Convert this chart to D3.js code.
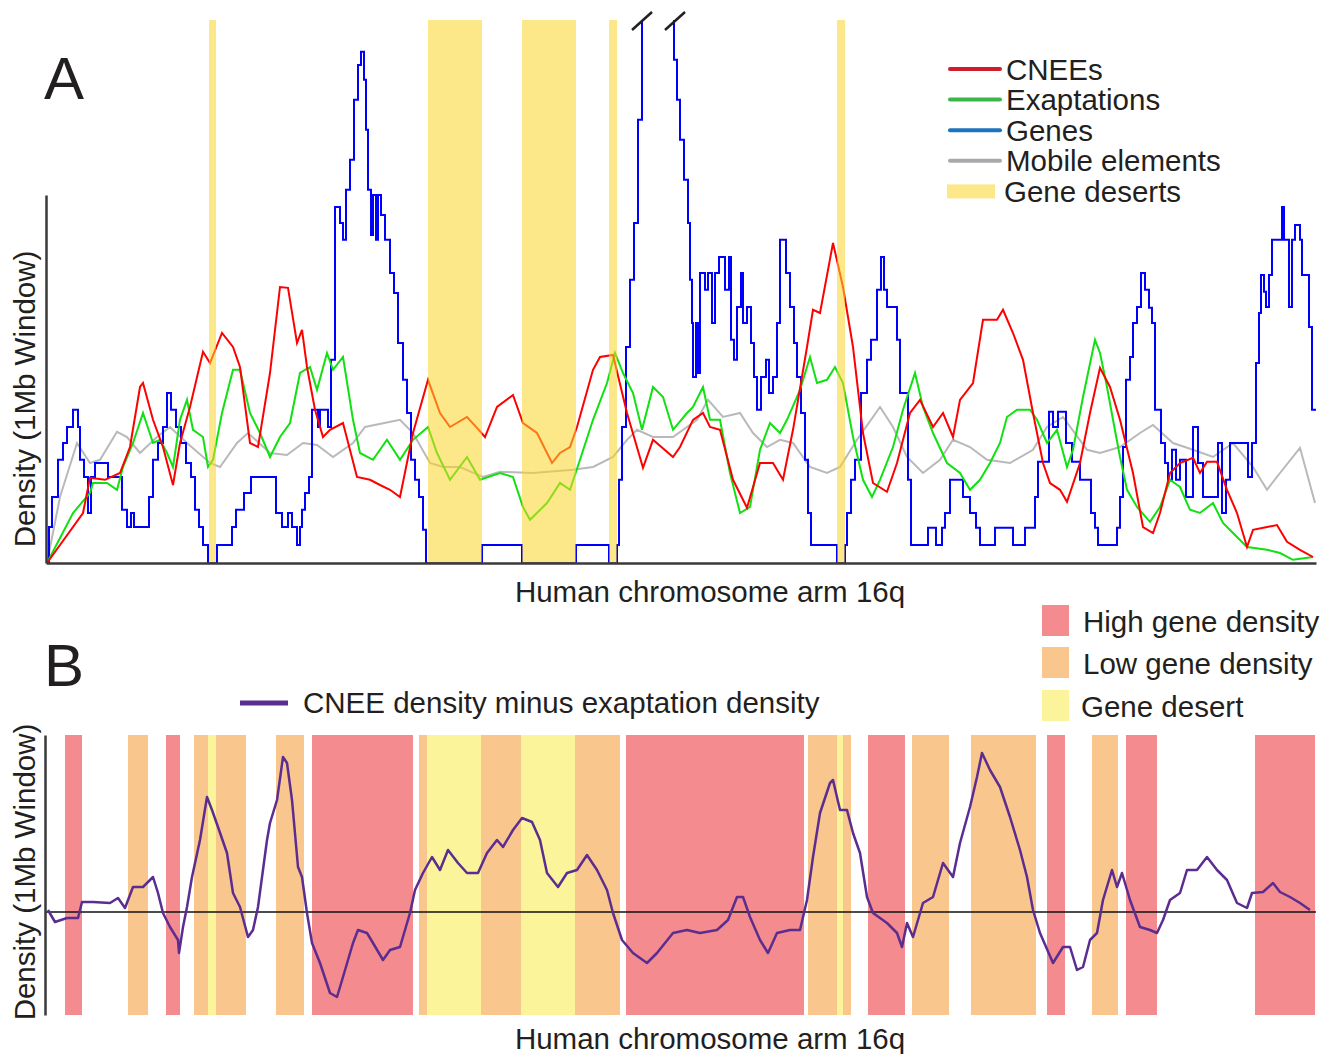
<!DOCTYPE html>
<html lang="en">
<head>
<meta charset="utf-8">
<title>CNEE and exaptation density along human 16q</title>
<script src="https://cdn.jsdelivr.net/npm/d3@7"></script>
<style>
  body { margin: 0; background: #fff; }
  svg text { font-family: "Liberation Sans", Arial, sans-serif; fill: #231f20; }
</style>
</head>
<body>
<div id="chart"></div>
<script>
// positions are along 16q in 100 kb steps, densities per 1 Mb window (arbitrary units)
var cneeDensity = [[0,0],[3.6,12.5],[4.3,21.3],[5.8,20.8],[7.3,22.5],[8.3,29],[9.3,44],[9.6,45],[10.6,35.8],[11.6,29],[12.6,19.5],[13.3,30],[14.3,39],[15.6,52.8],[16.3,50],[17.5,57.5],[18.6,54],[19.3,49],[20.3,30],[21.1,29],[22.3,47.5],[23.3,69],[24.1,68.8],[25,55],[25.5,58.3],[26,49],[26.8,38.3],[27.6,31.5],[28.3,33.3],[29.6,35],[31,21.5],[32.3,20.8],[33.3,19.5],[34.3,18.3],[35.3,16.5],[36.6,32.5],[38.1,45.8],[39.3,37.5],[40.3,34],[42,36.5],[43,33.8],[43.8,31.5],[45,39],[46.6,42],[47.6,35],[49,32.5],[50.5,25],[51.3,27.5],[52.3,29],[53,34],[54.6,48.3],[55.3,51.5],[56.6,52],[58,37.5],[59.6,23.8],[60.6,30.8],[62.6,26.5],[63.3,29],[64.6,35.8],[65.6,37.5],[66.3,34],[67.3,33.3],[68.6,20.8],[70,13.8],[71.3,25],[72.6,25],[73.6,20.8],[74.6,33.3],[76,54],[76.6,63.3],[77.3,62.5],[78.6,80],[79.6,69],[80.6,54],[81.6,32.5],[82.6,20],[84,17.8],[85,25],[86.3,37.5],[87.3,40.8],[88.6,34],[89.6,37.5],[90.6,31.5],[91.3,40.8],[92.6,45],[93.6,60.8],[95,60.8],[95.6,63.3],[96.6,57.5],[97.6,50.8],[98.6,37.5],[99.6,25],[100.3,20],[101.3,18.3],[102,15.3],[103.3,25],[104.3,37.5],[105.3,48.8],[106.3,44],[107.3,35.8],[108.6,22.5],[109.6,9],[110.6,7.5],[111.3,12.5],[112.3,22.5],[113.3,25],[114.6,26.3],[115.3,22.5],[116,25.3],[117,25.3],[118,18.3],[119,12.5],[120,4],[120.6,8.3],[122,9],[123,9.5],[124,5.3],[125.3,3.3],[126.6,1.5]];

var exaptationDensity = [[0,0],[2.6,12.5],[4.3,17.5],[4.6,20],[6,20],[7,18.3],[7.6,24],[8.6,30],[9.6,37.5],[10.6,30],[11.3,30.8],[12,27.5],[12.6,24],[13.3,35.8],[14,40.8],[14.6,33.3],[15.6,31.5],[16.1,24],[16.6,25.8],[17.5,37.5],[18.6,48.3],[19.3,48.3],[20.3,37.5],[21.3,32.5],[22.3,26.5],[23.3,31.5],[24.3,35],[25.3,47.5],[26.3,49],[27,43.3],[28,52.5],[28.6,48.3],[29.6,51.5],[30.6,35.8],[31.3,27.5],[32.6,25.8],[34,30.8],[35.3,25.8],[36.6,30.8],[38.1,34],[39,27.5],[40.3,20.8],[42,26.5],[43.3,20.8],[45.3,22.5],[46.6,21.5],[47.6,14],[48.3,10.8],[50,15],[51.3,20],[52.3,18.3],[53.3,25.8],[54.6,35.8],[56,45],[56.8,52.5],[57.6,47.5],[58.6,42.5],[59.5,33.3],[60.6,44],[61.6,41.5],[62.6,33.3],[64,37.5],[64.6,39],[65.6,44],[66.3,35.8],[67.3,35.8],[68.3,22.5],[69.3,12.5],[70.3,14],[71.3,28.3],[72.3,35],[73.3,32.5],[74,35.8],[75.3,43.3],[76.3,51.5],[77,45],[78,45.8],[78.8,49],[79.6,45],[80.6,31.5],[81.6,20.8],[82.5,16.5],[83.3,20.8],[84.6,29],[85.6,38.3],[86.8,47.5],[87.6,39],[88.6,32.5],[90,25],[91.3,22.5],[92.3,18.3],[93.3,20.8],[94.3,25],[95.3,30],[96,36.5],[97,38.3],[98.3,38.3],[99,35.8],[100,30],[101,33.3],[102,24],[102.6,28.3],[103.6,41.5],[104.8,55.8],[105.3,52.5],[106,44],[106.6,35.8],[107.3,26.5],[108,18.3],[109,14],[110.3,10.3],[111.3,14],[112.3,20.8],[113.3,19],[114.3,13.3],[115.3,12.5],[116.6,15],[117.6,10],[118.6,7.5],[120,4],[122,3.3],[123.3,2.5],[124.6,0.8],[126.6,1.5]];

// gene density is a step profile; each pair starts a new level
var geneDensity = [[0,0],[0.2,9],[0.5,16.5],[1.1,25.8],[1.6,30],[2,34],[2.6,38.3],[3.1,34],[3.3,25.8],[3.7,21.5],[4.1,12.5],[4.4,21.5],[4.8,25],[6.1,21.5],[7.5,13.3],[8,9],[8.4,12.5],[8.7,9],[10.2,16.5],[10.6,25.8],[11.1,30],[11.6,34],[12,42.5],[12.4,38.3],[12.9,34],[13.4,30],[13.9,25],[14.4,21.5],[14.8,13.3],[15.2,9],[15.6,4.5],[16.1,0],[17,4.5],[18.5,9],[18.9,13.3],[19.7,17.5],[20.4,21.5],[22.9,12.5],[23.5,9],[24.1,12.5],[24.5,9],[25,4.5],[25.3,9],[25.5,13.3],[25.8,17.5],[26.2,21.5],[26.5,38.3],[27.1,34],[27.3,38.3],[28.1,34],[28.4,50.8],[28.8,89],[29.3,85],[29.6,80.8],[29.9,93.3],[30.3,100.8],[30.7,115.8],[31.1,124.5],[31.4,127.8],[31.7,120.8],[31.9,108.3],[32.1,93.3],[32.4,82],[32.6,92],[32.9,80.8],[33.1,92],[33.4,87],[33.8,80.8],[34.3,72.5],[34.7,67.5],[35.1,55],[35.6,45.8],[36,37.5],[36.4,25.8],[36.8,20.8],[37.2,16.5],[37.6,8.3],[37.9,0],[43.5,4.5],[47.5,0],[52.9,4.5],[56.2,0],[57,4.5],[57.2,20.8],[57.5,34],[57.9,54],[58.3,70.8],[58.7,85],[59.1,110.8],[59.5,200],[62.7,125.8],[63,115.8],[63.3,105.8],[63.7,95.8],[64.1,85],[64.3,70.8],[64.5,60],[64.6,46.5],[64.9,60],[65.1,47.5],[65.3,72.5],[65.8,68.3],[66.1,72.5],[66.5,60],[66.8,72.5],[67.2,76.5],[67.8,68.3],[68.2,76.5],[68.4,55.8],[68.7,50.8],[69,64],[69.4,72.5],[69.6,60],[70,64],[70.4,55],[70.7,46.5],[71,38.3],[71.4,46.5],[71.9,50.8],[72.2,42.5],[72.6,46.5],[73,60],[73.3,80.8],[73.9,72.5],[74.3,64],[74.7,55],[75,46.5],[75.4,37.5],[75.8,25.8],[76.1,12.5],[76.4,4.5],[79,0],[79.8,4.5],[80,12.5],[80.4,20.8],[80.8,25.8],[81.4,42.5],[82,50.8],[82.4,55.8],[83,68.3],[83.4,76.5],[83.7,68.3],[84,64],[85,55.8],[85.3,42.5],[86.1,20.8],[86.4,4.5],[88.1,8.8],[88.9,4.5],[89.5,8.8],[89.8,12.5],[90.3,20.8],[91.6,16.5],[92.3,12.5],[92.9,8.8],[93.3,4.5],[94.8,8.8],[96.6,4.5],[97.8,8.8],[98.8,16.5],[99.1,25.3],[100.2,37.8],[100.6,34],[101.1,37.8],[101.9,30],[102.5,25.3],[103.3,20.8],[104.4,12.5],[104.8,8.8],[105.1,4.5],[107,8.8],[107.3,16.5],[107.6,29],[107.9,45.8],[108.3,51.5],[108.6,60],[109,64],[109.4,72.5],[109.8,68.3],[110.2,63.8],[110.5,60],[110.8,38.3],[111.4,30],[111.8,25],[112.1,20.8],[112.5,28.3],[112.9,20.8],[113.3,25.8],[113.9,16.5],[114.6,34],[115.1,25],[115.6,16.5],[117.1,30],[117.5,12.5],[117.9,20.8],[118.3,30],[120.1,21.5],[120.5,30],[120.9,50],[121.2,62.5],[121.4,72],[121.7,67.8],[121.9,64],[122.2,72],[122.5,80.8],[123.5,89],[123.7,80.8],[124.2,64],[124.5,80.8],[124.8,84.5],[125.3,80.8],[125.5,72],[126.2,59],[126.5,38.3],[126.9,38.3]];

var mobileDensity = [[0,0],[1.3,16.5],[3,30],[4.3,25],[5.3,25.8],[7,32.8],[8,31.5],[9.3,27.5],[11,31.5],[12.3,34],[14,30],[16.3,25],[17.3,24],[19,30],[20.1,32.5],[22.3,27.5],[24,27],[25.6,30],[27,29.5],[28.6,26.5],[30.6,30],[31.8,34],[35.3,35.8],[36.6,32.5],[38.3,25],[39.6,24],[41.3,24],[43.6,21.5],[45.3,22.8],[48.6,22.5],[52.6,23.3],[54.6,24],[56.6,26.5],[58,30.8],[59,33.3],[60.6,31.5],[62.6,31.5],[65,35.8],[66.1,40.8],[67.6,36.5],[69.3,37.5],[70.6,32.5],[72,29],[73.3,30.8],[74.6,30],[76.3,24],[78,22.5],[79.3,24],[81,30.8],[83.3,39],[84.6,34],[86,26.5],[87.6,22.5],[89.3,25.8],[90.6,30.8],[92.3,29],[94,25.8],[96.3,25],[98.6,28.3],[100,34],[101.6,36.5],[104,28.3],[105.3,27.5],[107.3,29],[109.3,32.5],[110.6,34.5],[112.6,30],[114.6,28.3],[116.6,26.5],[118.6,30],[120.6,24],[122,18.3],[123.3,22.5],[125.3,28.8],[126.8,15]];

var desertSpans = [[16.2,16.9],[38.1,43.5],[47.5,52.9],[56.2,57.0],[79.0,79.8]];

var cneeMinusExaptation = [[0.1,1],[0.8,-5],[2,-3],[3.1,-3],[3.5,5],[4.6,5],[6.3,4.5],[7.1,7],[7.8,2],[8.6,12.5],[9.6,12.5],[10.6,17.5],[11.1,9.5],[11.6,-0.5],[12.3,-7.5],[13.1,-14],[13.2,-20.5],[13.6,-7.5],[14,2.5],[14.5,17.5],[15.3,36],[16,57.5],[16.5,51],[17.1,42.5],[18,29.5],[18.6,9.5],[19.3,2.5],[20.1,-12.5],[20.6,-9],[21.1,2.5],[22,36],[22.3,44.5],[23,56],[23.6,77.5],[24,74.5],[24.5,56],[25.1,22.5],[25.5,17.5],[26,-0.5],[26.5,-15.5],[27.3,-25.5],[28.3,-40.5],[29,-42.5],[29.6,-32.5],[30.6,-15.5],[31.1,-9],[32,-10.5],[32.6,-15.5],[33.6,-24],[34.3,-19],[35.3,-17.5],[36.3,-0.5],[36.8,11],[37.6,19.5],[38.5,27.5],[39.3,21],[40.1,31],[41.1,24.5],[42,19.5],[43.1,19.5],[44,29.5],[45,36],[45.6,32.5],[46.6,41],[47.5,47],[48.5,45],[49.3,36],[50,19.5],[51.1,12.5],[52,19.5],[53,21],[54,28.5],[55,21],[56,11],[56.6,-0.5],[57.5,-14],[58.6,-20.5],[60,-25.5],[61,-20.5],[62.6,-10.5],[64,-9],[65.3,-10.5],[67,-9],[68.1,-4],[69,7.5],[69.6,7.5],[70.3,-2.5],[71.3,-14],[72.1,-20.5],[73,-10.5],[74.3,-9],[75.3,-9],[76,6],[76.6,27.5],[77.3,49.5],[78.3,64.5],[78.6,66],[79.3,51],[80,51],[80.6,39.5],[81.3,29.5],[82,7.5],[82.6,-0.5],[84,-5.5],[85,-10.5],[85.5,-17.5],[86,-5.5],[86.6,-12.5],[87.6,4.5],[88.6,7.5],[89.6,24.5],[90.6,17.5],[91.3,34.5],[92.3,52.5],[93,67.5],[93.5,79.5],[94.3,71],[95.3,62.5],[96.3,47.5],[97.3,31],[98,17.5],[98.6,1],[99.3,-10.5],[100.6,-25.5],[101.6,-17.5],[102.3,-17.5],[103,-29],[103.6,-27.5],[104.3,-14],[105,-10.5],[105.6,6],[106.5,21],[107,12.5],[107.5,19.5],[108.3,6],[109.3,-7.5],[110.3,-9],[111,-10.5],[111.6,-4],[112.3,6],[113.3,9.5],[114,21],[115,21],[116,27.5],[117,21],[118,16],[119,4.5],[120,2],[120.5,9.5],[121.6,10],[122.6,14.5],[123.3,10],[124.3,7.5],[125.3,4.5],[126.3,1]];

// regions of panel B: [start, end, class]
var regionSpans = [[1.8,3.5,"high"],[8.1,10.1,"low"],[11.9,13.3,"high"],[14.7,16.1,"low"],[16.1,16.9,"desert"],[16.9,19.9,"low"],[22.9,25.7,"low"],[26.5,36.6,"high"],[37.2,38.0,"low"],[38.0,43.4,"desert"],[43.4,47.4,"low"],[47.4,52.8,"desert"],[52.8,57.3,"low"],[57.9,75.7,"high"],[76.1,79.0,"low"],[79.0,79.6,"desert"],[79.6,80.4,"low"],[82.1,85.8,"high"],[86.5,90.2,"low"],[92.4,98.9,"low"],[100,101.8,"high"],[104.5,107.1,"low"],[107.9,111,"high"],[120.8,126.8,"high"]];

var seriesNamesA = ["CNEEs", "Exaptations", "Genes", "Mobile elements", "Gene deserts"];
var regionNames = ["High gene density", "Low gene density", "Gene desert"];

var svg = d3.select("#chart").append("svg")
            .attr("width", 1334)
            .attr("height", 1054);

var x = d3.scaleLinear().domain([0, 126.9]).range([47, 1316]);
var yA = d3.scaleLinear().domain([0, 92]).range([563, 195]);
var yB = d3.scaleLinear().domain([-51.5, 88.5]).range([1015, 735]);

var regionColor = {high: "#f48b8e", low: "#f9c68d", desert: "#fbf49a"};
var desertFill = "rgb(250,214,40)";
var desertOpacity = 0.55;

// ---------- panel A ----------
var lineA = d3.line().x(function(d){ return x(d[0]); }).y(function(d){ return yA(d[1]); });
var stepA = d3.line().x(function(d){ return x(d[0]); }).y(function(d){ return yA(d[1]); }).curve(d3.curveStepAfter);

svg.append("clipPath").attr("id", "clipA")
   .append("rect").attr("x", 40).attr("y", 20).attr("width", 1285).attr("height", 550);

var gA = svg.append("g").attr("clip-path", "url(#clipA)");

gA.append("path").datum(mobileDensity).attr("d", lineA)
  .attr("fill", "none").attr("stroke", "#b9b9b9").attr("stroke-width", 2);
gA.append("path").datum(geneDensity).attr("d", stepA)
  .attr("fill", "none").attr("stroke", "#0000ff").attr("stroke-width", 2);
gA.append("path").datum(exaptationDensity).attr("d", lineA)
  .attr("fill", "none").attr("stroke", "#11e011").attr("stroke-width", 2);
gA.append("path").datum(cneeDensity).attr("d", lineA)
  .attr("fill", "none").attr("stroke", "#ff0000").attr("stroke-width", 2);

// deserts sit over the lines, tinting them
svg.selectAll("rect.desert").data(desertSpans).enter().append("rect")
   .attr("class", "desert")
   .attr("x", function(d){ return x(d[0]); })
   .attr("width", function(d){ return x(d[1]) - x(d[0]); })
   .attr("y", 20).attr("height", yA(0) - 20)
   .attr("fill", desertFill).attr("opacity", desertOpacity);

// break marks where the gene peak runs off the top
[59.5, 62.8].forEach(function(p){
  svg.append("line")
     .attr("x1", x(p) - 10).attr("y1", 30)
     .attr("x2", x(p) + 10).attr("y2", 12)
     .attr("stroke", "#231f20").attr("stroke-width", 2.5);
});

var axisA = svg.append("g");
axisA.append("g").attr("transform", "translate(46,0)")
     .call(d3.axisLeft(yA).tickValues([]).tickSizeOuter(0));
axisA.append("g").attr("transform", "translate(0," + yA(0) + ")")
     .call(d3.axisBottom(d3.scaleLinear().domain(x.domain()).range([46, 1316])).tickValues([]).tickSizeOuter(0));
axisA.selectAll(".domain").attr("stroke", "#3a3a3a").attr("stroke-width", 2.5);

svg.append("text").attr("x", 44).attr("y", 99).attr("font-size", 60).text("A");
svg.append("text").attr("transform", "translate(35,399) rotate(-90)")
   .attr("text-anchor", "middle").attr("font-size", 29.5).text("Density (1Mb Window)");
svg.append("text").attr("x", 710).attr("y", 602)
   .attr("text-anchor", "middle").attr("font-size", 29.5).text("Human chromosome arm 16q");

// legend A
var legendColors = ["#d01c2c", "#3cb54a", "#1c75bc", "#a7a9ac"];
var legA = svg.append("g");
seriesNamesA.forEach(function(name, i){
  var cy = 69 + i * 30.6;
  if (i < 4) {
    legA.append("line").attr("x1", 950).attr("x2", 1000).attr("y1", cy).attr("y2", cy)
        .attr("stroke", legendColors[i]).attr("stroke-width", 4).attr("stroke-linecap", "round");
  } else {
    legA.append("rect").attr("x", 947).attr("y", cy - 7).attr("width", 48).attr("height", 14)
        .attr("fill", desertFill).attr("opacity", desertOpacity);
  }
  legA.append("text").attr("x", i < 4 ? 1006 : 1004).attr("y", cy + 10.5)
      .attr("font-size", 29.5).text(name);
});

// ---------- panel B ----------
svg.selectAll("rect.region").data(regionSpans).enter().append("rect")
   .attr("class", "region")
   .attr("x", function(d){ return x(d[0]); })
   .attr("width", function(d){ return x(d[1]) - x(d[0]); })
   .attr("y", yB.range()[1]).attr("height", yB.range()[0] - yB.range()[1])
   .attr("fill", function(d){ return regionColor[d[2]]; });

svg.append("line").attr("x1", 46).attr("x2", 1316).attr("y1", yB(0)).attr("y2", yB(0))
   .attr("stroke", "#111").attr("stroke-width", 1.6);

var lineB = d3.line().x(function(d){ return x(d[0]); }).y(function(d){ return yB(d[1]); });
svg.append("path").datum(cneeMinusExaptation).attr("d", lineB)
   .attr("fill", "none").attr("stroke", "#5b2d90").attr("stroke-width", 2.5)
   .attr("stroke-linejoin", "round");

var axisB = svg.append("g").attr("transform", "translate(45,0)")
   .call(d3.axisLeft(yB).tickValues([]).tickSizeOuter(0));
axisB.selectAll(".domain").attr("stroke", "#3a3a3a").attr("stroke-width", 2.5);

svg.append("text").attr("x", 44).attr("y", 686).attr("font-size", 60).text("B");
svg.append("text").attr("transform", "translate(35,872) rotate(-90)")
   .attr("text-anchor", "middle").attr("font-size", 29.5).text("Density (1Mb Window)");
svg.append("text").attr("x", 710).attr("y", 1049)
   .attr("text-anchor", "middle").attr("font-size", 29.5).text("Human chromosome arm 16q");

svg.append("line").attr("x1", 240).attr("x2", 288).attr("y1", 703).attr("y2", 703)
   .attr("stroke", "#5b2d90").attr("stroke-width", 5);
svg.append("text").attr("x", 303).attr("y", 713).attr("font-size", 29.5)
   .text("CNEE density minus exaptation density");

var regionKeys = ["high", "low", "desert"];
regionNames.forEach(function(name, i){
  var top = [605, 647, 690][i];
  svg.append("rect").attr("x", 1042).attr("y", top).attr("width", 27).attr("height", 31)
     .attr("fill", regionColor[regionKeys[i]]);
  svg.append("text").attr("x", i < 2 ? 1083 : 1081).attr("y", top + 27)
     .attr("font-size", 29.5).text(name);
});
</script>
</body>
</html>
